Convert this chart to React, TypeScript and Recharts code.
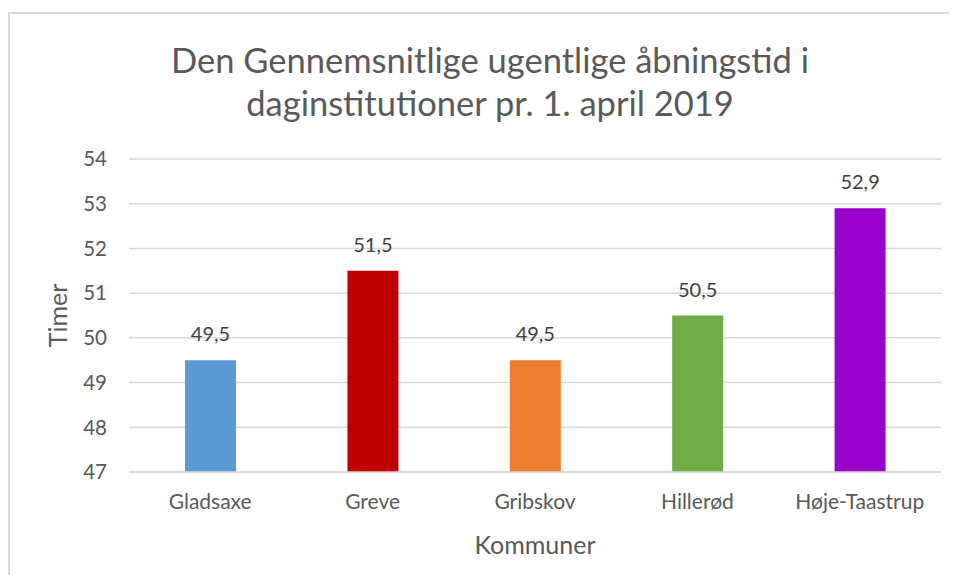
import React from 'react';
import { BarChart, Bar, XAxis, YAxis, CartesianGrid, Cell, LabelList } from 'recharts';

const categories = ['Gladsaxe', 'Greve', 'Gribskov', 'Hillerød', 'Høje-Taastrup'];
const values = [49.5, 51.5, 49.5, 50.5, 52.9];
const colors = ['#5B9BD5', '#C00000', '#ED7D31', '#70AD47', '#9900CC'];
const yTicks = [47, 48, 49, 50, 51, 52, 53, 54];

const data = categories.map((name, i) => ({ name, value: values[i] }));

const FONT = 'Lato, "Open Sans", sans-serif';

export default function App() {
  return (
    <div style={{ position: 'relative', width: 941, height: 567, overflow: 'hidden', fontFamily: FONT }}>
      <div
        style={{
          position: 'absolute',
          left: 0,
          top: 4,
          width: 1000,
          height: 700,
          border: '2px solid #D9D9D9',
          boxSizing: 'border-box',
        }}
      />
      <div
        style={{
          position: 'absolute',
          left: 0,
          top: 30,
          width: 964,
          textAlign: 'center',
          color: '#595959',
          fontSize: 34.5,
          lineHeight: '43px',
        }}
      >
        Den Gennemsnitlige ugentlige åbningstid i
        <br />
        daginstitutioner pr. 1. april 2019
      </div>
      <div style={{ position: 'absolute', left: 0, top: 0 }}>
        <BarChart
          width={941}
          height={567}
          data={data}
          margin={{ top: 151, right: 8, bottom: 13, left: 0 }}
        >
          <CartesianGrid vertical={false} stroke="#D9D9D9" strokeWidth={1.5} />
          <XAxis
            dataKey="name"
            axisLine={{ stroke: '#D9D9D9', strokeWidth: 1.5 }}
            tickLine={false}
            tickSize={0}
            tickMargin={22}
            height={90}
            tick={{ fill: '#595959', fontSize: 21, fontFamily: FONT }}
            label={{ value: 'Kommuner', position: 'insideBottom', offset: 8, fill: '#595959', fontSize: 25, fontFamily: FONT }}
          />
          <YAxis
            type="number"
            domain={[47, 54]}
            ticks={yTicks}
            interval={0}
            width={121}
            axisLine={false}
            tickLine={false}
            tickSize={0}
            tickMargin={22}
            tick={{ fill: '#595959', fontSize: 20.5, fontFamily: FONT }}
            label={{ value: 'Timer', angle: -90, position: 'center', dx: -10, fill: '#595959', fontSize: 25, fontFamily: FONT }}
          />
          <Bar dataKey="value" barSize={51} isAnimationActive={false}>
            {data.map((d, i) => (
              <Cell key={d.name} fill={colors[i]} />
            ))}
            <LabelList
              dataKey="value"
              position="top"
              offset={19}
              fill="#404040"
              fontSize={20}
              fontFamily={FONT}
              formatter={(v: number) => String(v).replace('.', ',')}
            />
          </Bar>
        </BarChart>
      </div>
    </div>
  );
}
